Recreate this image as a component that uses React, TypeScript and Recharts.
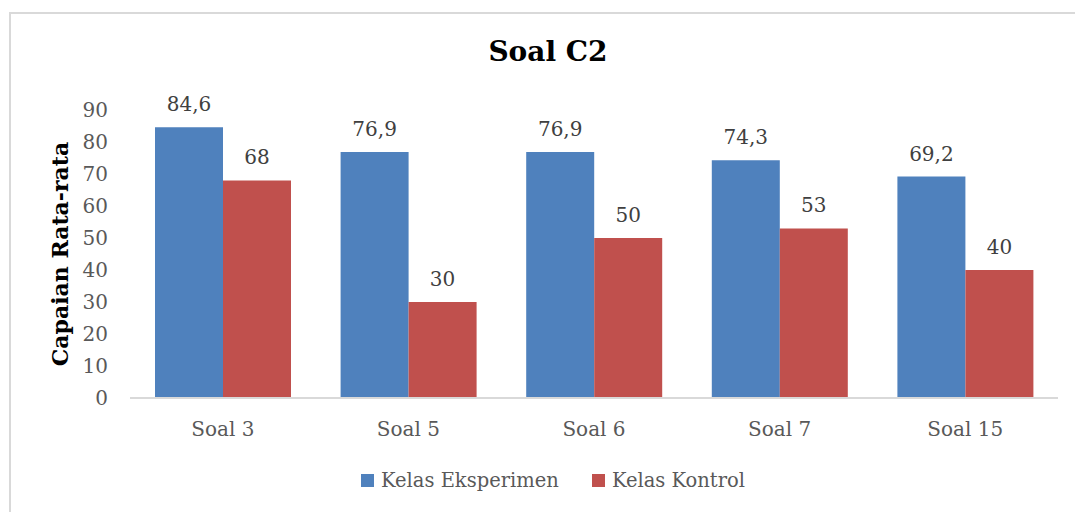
import React from "react";
import { BarChart, Bar, XAxis, YAxis, LabelList } from "recharts";

const categories: string[] = ["Soal 3", "Soal 5", "Soal 6", "Soal 7", "Soal 15"];
const eksperimen: number[] = [84.6, 76.9, 76.9, 74.3, 69.2];
const kontrol: number[] = [68, 30, 50, 53, 40];
const yTicks: number[] = [0, 10, 20, 30, 40, 50, 60, 70, 80, 90];

const data = categories.map((name, i) => ({
  name,
  eksperimen: eksperimen[i],
  kontrol: kontrol[i],
}));

const FONT = "'DejaVu Serif', serif";
const BLUE = "#4F81BD";
const RED = "#C0504D";

const fmt = (v: any) => String(v).replace(".", ",");

const legendItems = [
  { label: "Kelas Eksperimen", color: BLUE },
  { label: "Kelas Kontrol", color: RED },
];

const App: React.FC = () => {
  const tickStyle = { fill: "#595959", fontSize: 20, fontFamily: FONT };
  const labelStyle = { fill: "#404040", fontSize: 20, fontFamily: FONT };

  return (
    <div
      style={{
        position: "absolute",
        left: 0,
        top: 0,
        width: 1075,
        height: 512,
        overflow: "hidden",
        background: "#fff",
      }}
    >
      {/* chart frame */}
      <div
        style={{
          position: "absolute",
          left: 9,
          top: 12,
          width: 1100,
          height: 540,
          border: "2px solid #d9d9d9",
        }}
      />
      <div
        style={{
          position: "absolute",
          left: 0,
          width: 1096,
          top: 35,
          textAlign: "center",
          fontFamily: FONT,
          fontWeight: "bold",
          fontSize: 28,
          color: "#000",
        }}
      >
        Soal C2
      </div>
      <div style={{ position: "absolute", left: 0, top: 0 }}>
        <BarChart
          width={1075}
          height={512}
          data={data}
          margin={{ top: 110, right: 17, left: 80, bottom: 84 }}
          barCategoryGap={25}
          barGap={0}
        >
          <XAxis
            dataKey="name"
            height={30}
            tick={tickStyle}
            tickLine={false}
            tickSize={0}
            tickMargin={24}
            axisLine={{ stroke: "#d9d9d9", strokeWidth: 2 }}
          />
          <YAxis
            width={50}
            domain={[0, 90]}
            ticks={yTicks}
            interval={0}
            tick={tickStyle}
            tickLine={false}
            tickSize={0}
            tickMargin={22}
            axisLine={false}
            label={{
              value: "Capaian Rata-rata",
              angle: -90,
              position: "left",
              offset: 20,
              style: {
                fontFamily: FONT,
                fontWeight: "bold",
                fontSize: 22,
                fill: "#000",
                textAnchor: "middle",
              },
            }}
          />
          <Bar dataKey="eksperimen" name="Kelas Eksperimen" fill={BLUE} isAnimationActive={false}>
            <LabelList dataKey="eksperimen" position="top" offset={16} formatter={fmt} style={labelStyle} />
          </Bar>
          <Bar dataKey="kontrol" name="Kelas Kontrol" fill={RED} isAnimationActive={false}>
            <LabelList dataKey="kontrol" position="top" offset={16} formatter={fmt} style={labelStyle} />
          </Bar>
        </BarChart>
      </div>
      {/* legend */}
      <div
        style={{
          position: "absolute",
          left: 0,
          width: 1106,
          top: 469,
          display: "flex",
          justifyContent: "center",
          gap: 33,
        }}
      >
        {legendItems.map((it) => (
          <div key={it.label} style={{ display: "flex", alignItems: "center" }}>
            <span
              style={{
                display: "inline-block",
                width: 13,
                height: 13,
                background: it.color,
                marginRight: 7,
              }}
            />
            <span style={{ fontFamily: FONT, fontSize: 19.5, color: "#595959" }}>
              {it.label}
            </span>
          </div>
        ))}
      </div>
    </div>
  );
};

export default App;
